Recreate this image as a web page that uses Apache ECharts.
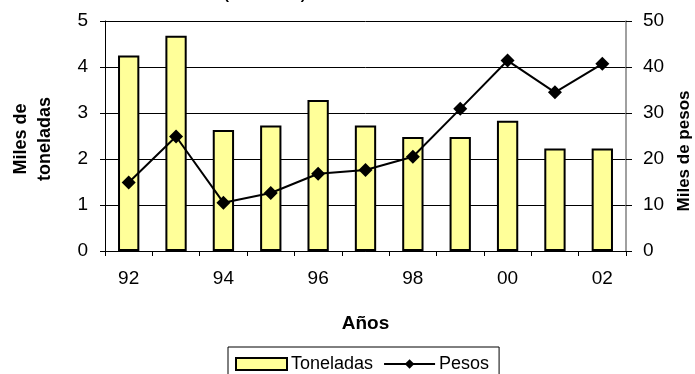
<!DOCTYPE html>
<html><head><meta charset="utf-8">
<script src="https://cdn.jsdelivr.net/npm/echarts@6/dist/echarts.min.js"></script>
<style>html,body{margin:0;padding:0;background:#fff}#c{width:695px;height:374px}</style>
</head><body><div id="c"></div>
<script>
const years = ['92','93','94','95','96','97','98','99','00','01','02'];
const toneladas = [4.25, 4.68, 2.63, 2.73, 3.28, 2.73, 2.48, 2.48, 2.83, 2.23, 2.23];
const pesos = [14.9, 24.9, 10.5, 12.6, 16.8, 17.6, 20.5, 30.9, 41.4, 34.5, 40.7];
const leftTicks = [0, 1, 2, 3, 4, 5];
const rightTicks = [0, 10, 20, 30, 40, 50];

const FONT = 'Liberation Sans, Arial, sans-serif';
const chart = echarts.init(document.getElementById('c'), null, {renderer: 'canvas'});
chart.setOption({
  animation: false,
  backgroundColor: '#fff',
  title: {
    text: '(1992-2002)', left: 219, top: -18,
    textStyle: {fontFamily: FONT, fontSize: 15, fontWeight: 'bold', color: '#000', lineHeight: 16}
  },
  grid: {left: 105, right: 69, top: 21, bottom: 123, containLabel: false, outerBoundsMode: 'none'},
  legend: {
    left: 228, top: 347,
    padding: [8, 10, 8, 7],
    borderColor: '#000', borderWidth: 1,
    itemWidth: 51, itemHeight: 12, itemGap: 10,
    textStyle: {fontFamily: FONT, fontSize: 18, color: '#000', padding: [0, 0, 0, -1]},
    data: [{name: 'Toneladas', icon: 'rect'}, {name: 'Pesos'}]
  },
  xAxis: {
    type: 'category', data: years, boundaryGap: true,
    name: 'Años', nameLocation: 'middle', nameGap: 63,
    nameTextStyle: {fontFamily: FONT, fontSize: 19, fontWeight: 'bold', color: '#000'},
    axisLine: {lineStyle: {color: '#000', width: 1}},
    axisTick: {show: true, length: 5, interval: 0, lineStyle: {color: '#000'}},
    axisLabel: {interval: 1, margin: 18, fontFamily: FONT, fontSize: 19, color: '#000'}
  },
  yAxis: [{
    type: 'value', min: leftTicks[0], max: leftTicks[leftTicks.length - 1], interval: 1,
    name: 'Miles de\ntoneladas', nameLocation: 'middle', nameGap: 48, nameRotate: 90,
    nameTextStyle: {fontFamily: FONT, fontSize: 18, fontWeight: 'bold', color: '#000', lineHeight: 24, padding: [0, 6, 0, 0]},
    axisLine: {show: true, lineStyle: {color: '#000', width: 1}},
    axisTick: {show: true, length: 5, lineStyle: {color: '#000'}},
    axisLabel: {margin: 17, fontFamily: FONT, fontSize: 19, color: '#000'},
    splitLine: {show: true, lineStyle: {color: '#000', width: 1}}
  }, {
    type: 'value', position: 'right', min: rightTicks[0], max: rightTicks[rightTicks.length - 1], interval: 10,
    name: 'Miles de pesos', nameLocation: 'middle', nameGap: 50, nameRotate: 90,
    nameTextStyle: {fontFamily: FONT, fontSize: 17, fontWeight: 'bold', color: '#000', padding: [0, 30, 0, 0]},
    axisLine: {show: true, lineStyle: {color: '#808080', width: 1.5}},
    axisTick: {show: true, length: 6, lineStyle: {color: '#000'}},
    axisLabel: {margin: 17, fontFamily: FONT, fontSize: 19, color: '#000'},
    splitLine: {show: false}
  }],
  series: [{
    name: 'Toneladas', type: 'bar', yAxisIndex: 0, data: toneladas, barWidth: '45%',
    itemStyle: {color: '#FFFF99', borderColor: '#000', borderWidth: 2}
  }, {
    name: 'Pesos', type: 'line', yAxisIndex: 1, data: pesos,
    symbol: 'diamond', symbolSize: 14,
    lineStyle: {color: '#000', width: 2},
    itemStyle: {color: '#000'}
  }]
});
</script></body></html>
